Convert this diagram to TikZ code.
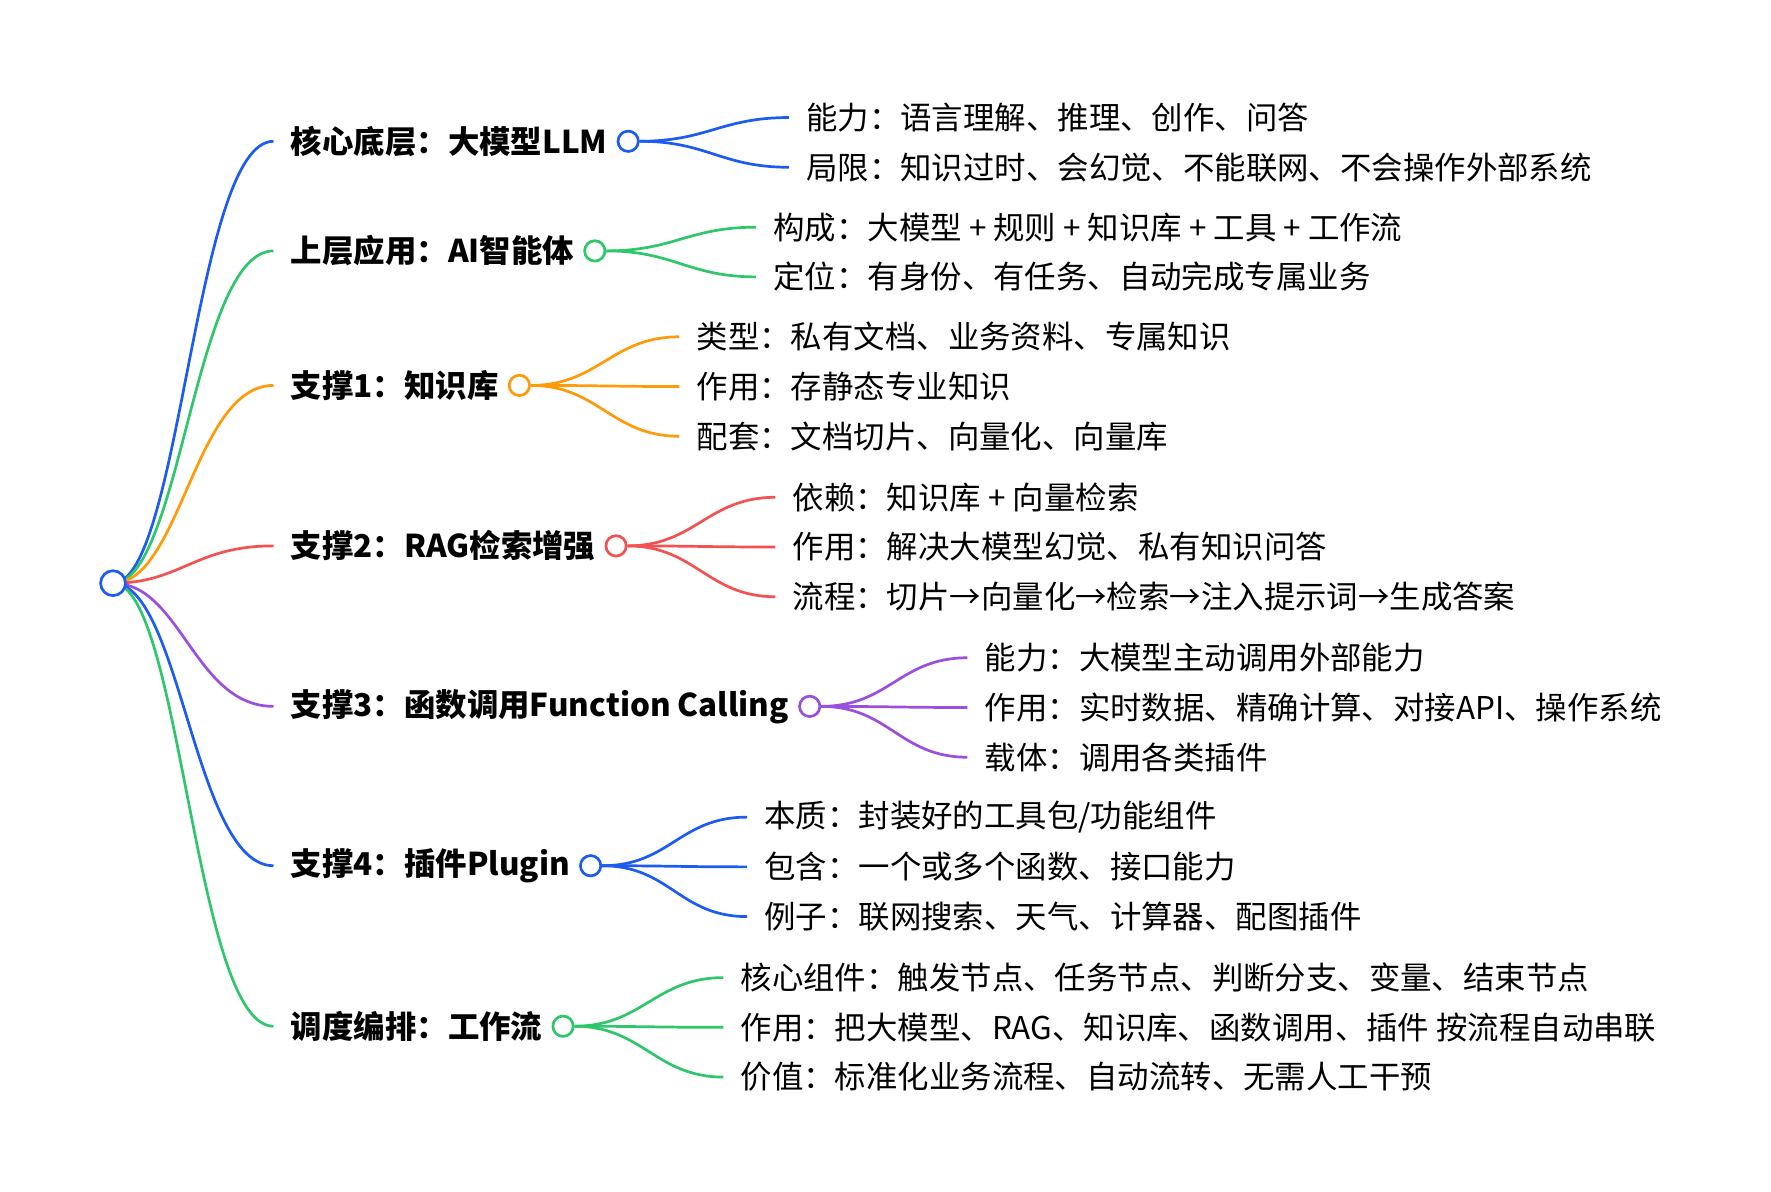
\documentclass[tikz,border=0pt]{standalone}
\usepackage{fontspec}
\setmainfont{Noto Sans CJK SC}
\begin{document}
\begin{tikzpicture}[x=0.5pt,y=-0.5pt,
  hub/.style={circle,draw=#1,line width=1.2pt,minimum size=9pt,inner sep=0pt,fill=white},
  topic/.style={anchor=west,font=\fontsize{13.9}{16}\selectfont\bfseries,inner sep=0pt},
  leaf/.style={anchor=west,font=\fontsize{13.9}{16}\selectfont,inner sep=0pt},
  link/.style={line width=1.2pt,draw=#1}]

\useasboundingbox (0,0) rectangle (1567,1054);

\definecolor{cblue}{HTML}{1D5CF0}
\definecolor{cgreen}{HTML}{2FC66C}
\definecolor{corange}{HTML}{FF9A0A}
\definecolor{cred}{HTML}{F25252}
\definecolor{cpurple}{HTML}{9A4FDE}

% root
\coordinate (R) at (100,516);

% topics
\node[topic] (t1) at (257,125) {核心底层：大模型LLM};
\node[topic] (t2) at (257,222) {上层应用：AI智能体};
\node[topic] (t3) at (257,341) {支撑1：知识库};
\node[topic] (t4) at (257,483) {支撑2：RAG检索增强};
\node[topic] (t5) at (257,625) {支撑3：函数调用Function Calling};
\node[topic] (t6) at (257,766) {支撑4：插件Plugin};
\node[topic] (t7) at (257,908) {调度编排：工作流};

\foreach \i/\c in {1/cblue,2/cgreen,3/corange,4/cred,5/cpurple,6/cblue,7/cgreen}{
  \coordinate (e\i) at ([xshift=-7.5pt]t\i.west);
  \draw[link=\c] (R) .. controls ([xshift=30pt]R) and ([xshift=-35pt]e\i) .. (e\i);
  \node[hub=\c] (h\i) at ([xshift=9pt]t\i.east) {};
}
\node[hub=cblue,minimum size=11pt] (root) at (R) {};

% leaves of LLM
\node[leaf] (l11) at (713,104) {能力：语言理解、推理、创作、问答};
\node[leaf] (l12) at (713,148) {局限：知识过时、会幻觉、不能联网、不会操作外部系统};
% leaves of agent
\node[leaf] (l21) at (684,201) {构成：大模型 + 规则 + 知识库 + 工具 + 工作流};
\node[leaf] (l22) at (684,245) {定位：有身份、有任务、自动完成专属业务};
% leaves of knowledge base
\node[leaf] (l31) at (616,298) {类型：私有文档、业务资料、专属知识};
\node[leaf] (l32) at (616,342) {作用：存静态专业知识};
\node[leaf] (l33) at (616,386) {配套：文档切片、向量化、向量库};
% leaves of RAG
\node[leaf] (l41) at (701,440) {依赖：知识库 + 向量检索};
\node[leaf] (l42) at (701,484) {作用：解决大模型幻觉、私有知识问答};
\node[leaf] (l43) at (701,528) {流程：切片→向量化→检索→注入提示词→生成答案};
% leaves of function calling
\node[leaf] (l51) at (871,582) {能力：大模型主动调用外部能力};
\node[leaf] (l52) at (871,626) {作用：实时数据、精确计算、对接API、操作系统};
\node[leaf] (l53) at (871,670) {载体：调用各类插件};
% leaves of plugin
\node[leaf] (l61) at (676,723) {本质：封装好的工具包/功能组件};
\node[leaf] (l62) at (676,767) {包含：一个或多个函数、接口能力};
\node[leaf] (l63) at (676,811) {例子：联网搜索、天气、计算器、配图插件};
% leaves of workflow
\node[leaf] (l71) at (655,865) {核心组件：触发节点、任务节点、判断分支、变量、结束节点};
\node[leaf] (l72) at (655,909) {作用：把大模型、RAG、知识库、函数调用、插件 按流程自动串联};
\node[leaf] (l73) at (655,953) {价值：标准化业务流程、自动流转、无需人工干预};

\foreach \i/\c/\n in {1/cblue/2,2/cgreen/2,3/corange/3,4/cred/3,5/cpurple/3,6/cblue/3,7/cgreen/3}{
  \foreach \j in {1,...,\n}{
    \coordinate (s\i\j) at ([xshift=-7.5pt]l\i\j.west);
    \draw[link=\c] (h\i.east) .. controls ([xshift=30pt]h\i.east) and ([xshift=-30pt]s\i\j) .. (s\i\j);
  }
}
\end{tikzpicture}
\end{document}
